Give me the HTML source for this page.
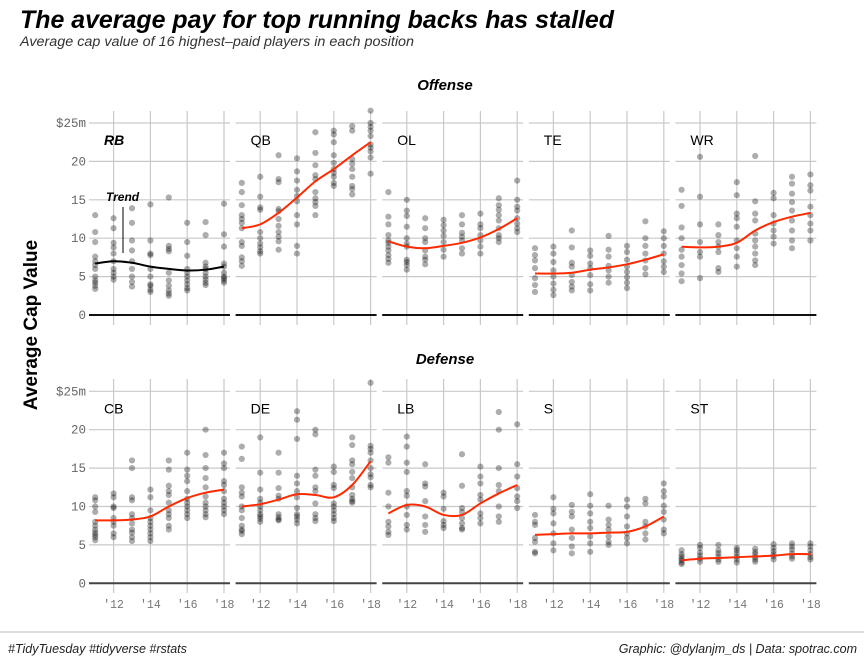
<!DOCTYPE html>
<html><head><meta charset="utf-8"><style>
body{margin:0;background:#fff;}
svg{display:block;font-family:"Liberation Sans",sans-serif;}
.mono{font-family:"Liberation Mono",monospace;}
</style></head><body>
<svg id="chart" width="864" height="668" viewBox="0 0 864 668">
<text x="20" y="28" font-size="25" font-weight="bold" font-style="italic" textLength="594" lengthAdjust="spacingAndGlyphs">The average pay for top running backs has stalled</text>
<text x="20" y="46" font-size="13.5" font-style="italic" fill="#333" textLength="394" lengthAdjust="spacingAndGlyphs">Average cap value of 16 highest–paid players in each position</text>
<text x="445" y="90" font-size="15" font-weight="bold" font-style="italic" text-anchor="middle">Offense</text>
<text x="445" y="364" font-size="15" font-weight="bold" font-style="italic" text-anchor="middle">Defense</text>
<text transform="translate(37,325) rotate(-90)" font-size="19" font-weight="bold" text-anchor="middle">Average Cap Value</text>
<line x1="0" y1="632" x2="864" y2="632" stroke="#bbb" stroke-width="1"/>
<text x="8" y="653" font-size="12.5" font-style="italic" fill="#222">#TidyTuesday #tidyverse #rstats</text>
<text x="857" y="653" font-size="12.5" font-style="italic" fill="#222" text-anchor="end">Graphic: @dylanjm_ds | Data: spotrac.com</text>
<g id="panels"></g>
</svg>
<script>
const years = [2011,2012,2013,2014,2015,2016,2017,2018];
const yTicks = [0,5,10,15,20,25];
const yTickLabels = ["0","5","10","15","20","$25m"];
const xTicks = [2012,2014,2016,2018];
const xTickLabels = ["'12","'14","'16","'18"];
const positions = ["RB","QB","OL","TE","WR","CB","DE","LB","S","ST"];

const RB = [[13,10.8,9.5,7.6,7,6.5,6,5,4.5,4.2,3.8,3.4],[12.6,11.3,9.4,8.8,8,7,6,5.5,5,4.6],[13.9,12,9.7,8.4,7,6,5,4.3,3.7],[14.4,9.7,8,7.8,6,5,4,3.8,3.3,3],[15.3,9,8.6,8.3,5.5,4.5,3.8,3.2,2.8,2.5],[12,9.5,7.7,6,5.5,5,4.5,4,3.5,3.2],[12.1,10.4,6.8,6.3,6,5.5,5,4.6,4.2,3.9],[14.5,10.5,8.9,6.7,6.3,5.5,5,4.8,4.5,4.2]];
const QB = [[17.2,16,14.3,13,12.5,12,11.3,9.5,9,7.5,7,6.4],[18,15.4,14,13.7,10.8,10,9.3,8.8,8.3,8],[20.8,17.7,17.3,13.8,13.5,12.5,11.6,10.8,10.2,9.6,8.5],[20.4,18.7,17.5,16.3,15.5,14.8,13,11.8,9,8],[23.8,21.1,19.5,18.2,17.7,16,15.2,14.7,14.2,13],[24,23.5,22.5,20.8,19.8,19,18.5,18,17.2,16.8],[24.6,24,20.3,19.7,19,18,16.8,16.4,15.7],[26.6,25,24.5,24,23.3,22.2,21.8,21.3,20.5,18.4]];
const OL = [[16,12.8,11.8,10.4,9.7,9.4,8.9,8.4,7.8,7.3,6.8],[15,13.6,12.9,11.5,10,9.3,8.9,7.2,6.9,6.5,5.9],[12.6,11.3,10,9.5,8.4,7.6,7.2,6.6],[12.4,11.7,11,10.3,9.5,8.5,7.6],[13,11.8,10.7,10.2,9.7,8.7,8],[13.2,11.8,11.3,10.4,9.7,8.9,8],[15.2,14.3,13.7,13,12.3,11.3,10.4,10,9.5],[17.5,15,14.1,13.6,12.6,11.9,11.3,10.8]];
const TE = [[8.7,7.8,7.1,6.1,4.8,3.9,3],[8.9,8,6.9,5.8,5,4.1,3.3,2.6],[11,8.8,6.8,6.3,5.2,4.3,3.7,3.2],[8.4,7.7,6.7,6.1,5.2,4,3.2],[10.3,8.5,7.6,6.4,5.8,5,4.2],[9,8.2,7.2,6.3,5.6,4.9,4.2,3.5],[12.2,10,9,8,7.1,6.1,5.3],[10.9,10,9,8,7,6.3,5.6]];
const WR = [[16.3,14.2,11.4,10,8.5,7.6,6.5,5.4,4.4],[20.6,15.4,11.8,9.5,8.2,7.6,4.8],[11.8,10.4,9.5,8.9,8.2,6.1,5.6],[17.3,15.6,13.2,12.6,11.5,9.7,8.7,7.6,6.3],[20.7,14.8,13.2,12.3,10.6,9.7,8.9,8,7.1,6.5],[15.9,15.2,13,11.9,11,10.2,9.3],[18,17.1,15.8,14.7,13.6,12.3,11,9.7,8.7],[18.3,16.9,16.2,14.1,13,11.9,11,9.7]];
const CB = [[11.2,10.8,10,9.3,8,7.5,7,6.6,6.3,6,5.6],[11.7,11.2,10,9.8,8.5,8,7.5,6.5,6],[16,15,11.2,10.8,9,8.5,7.8,7,6.6,6,5.5],[12.2,11.2,9.5,8.5,8,7.5,7,6.5,6,5.5],[16,14.8,12.7,12,11.5,10.5,9.5,9,8.5,7.5,7],[17,14.8,14,13.3,12,11,10.5,10,9.5,9,8.5],[20,16.7,15,13.7,12.5,11.3,10.5,10,9.5,9,8.6],[17,15.6,15,13.3,12.8,12,11,10.5,10,9.5,9]];
const DE = [[17.8,16.2,12.5,11.8,11.3,10,9.5,8.5,7.5,7,6.8,6.4],[19,14.4,12.2,11,10.5,10,9.5,9,8.7,8.4,8],[17,14.4,12.4,11.4,11,9,8.6,8.3,8.2],[22.4,21.3,18.8,14,13,12,11.2,9.8,9,8.7,8.3,7.8],[20,19.4,14.8,14,12.5,12,10.4,9,8.5,8.1],[15.2,14.5,12.8,12.4,10.4,10,9.5,9,8.5,8.1],[19,18,16,15.5,14.5,13.7,12.5,11.5,11,10.7,10.5],[26.1,17.9,17.5,17,16,15,14.2,13.8,12.8,12.5]];
const LB = [[16.4,15.7,11.8,10,8,7.4,6.7,6.3],[19.1,17.8,15.7,14.5,12,11.4,10,8.9,7.6,7],[15.5,13,12.6,10.7,8.7,7.6,6.7],[11.8,11.3,9.7,8.1,7.6,7.2],[16.8,12.7,9.8,9.3,8.5,7.8,7.2,7],[15.2,13.9,13,11.5,10.9,9.1,8.5,7.8],[22.3,20,15,12.8,12,10,8.7,8],[20.7,15.5,13.9,12.4,11.3,10.7,9.8]];
const S = [[8.9,8,7.6,5.9,5.4,4.1,3.9],[11.2,9.7,9.1,7.8,6.5,5.2,4.3],[10.2,9.3,8.7,7,5.9,4.8,3.9],[11.6,10.1,9.1,8,7.2,6.1,5.2,4.1],[10.1,8.3,7.6,7,6.1,5.4,5],[10.9,10,8.7,7.4,6.5,5.9,5.2],[11,10.4,8,7.4,6.5,5.7],[13,12,11.3,10.1,9.3,8.3,7,6.5]];
const ST = [[4.3,3.8,3.5,3.2,3,2.7,2.5],[5,4.6,4,3.6,3.2,2.8],[5,4.3,3.9,3.5,3.1,2.8],[4.6,4.3,3.9,3.5,3.1,2.7],[4.5,4.1,3.8,3.4,3.1,2.8],[5.1,4.6,4.2,3.8,3.5,3.1],[5.2,4.8,4.4,3.9,3.5,3.2],[5.2,4.8,4.3,3.8,3.4,3.1]];
const pointData = {RB,QB,OL,TE,WR,CB,DE,LB,S,ST};

const trendRB = [6.7,7.0,6.8,6.3,6.0,5.8,5.9,6.3];
const trendQB = [11.3,11.8,13.3,15.3,17.4,19.0,20.8,22.5];
const trendOL = [9.6,8.9,8.7,9.0,9.4,10.1,11.2,12.6];
const trendTE = [5.4,5.4,5.5,5.9,6.2,6.6,7.2,7.9];
const trendWR = [8.9,8.8,8.9,9.4,11.0,12.1,12.8,13.3];
const trendCB = [8.2,8.2,8.3,8.7,10.0,11.1,11.8,12.2];
const trendDE = [10.0,10.3,10.9,11.6,11.5,11.2,12.8,15.9];
const trendLB = [9.1,10.2,10.0,8.9,8.9,10.4,11.7,12.8];
const trendS = [6.3,6.4,6.5,6.5,6.6,6.7,7.4,8.7];
const trendST = [3.0,3.2,3.3,3.4,3.5,3.6,3.8,3.8];
const trends = {RB:trendRB,QB:trendQB,OL:trendOL,TE:trendTE,WR:trendWR,CB:trendCB,DE:trendDE,LB:trendLB,S:trendS,ST:trendST};

const NS = "http://www.w3.org/2000/svg";
const root = document.getElementById('panels');
const panelW = 141, stride = 146.6, left0 = 89;
const rows = [{zero:315, top:111, bot:325}, {zero:583.3, top:379, bot:593}];
const pxPerUnit = 7.68;
function mk(tag, attrs, parent){const e=document.createElementNS(NS,tag);for(const k in attrs)e.setAttribute(k,attrs[k]);(parent||root).appendChild(e);return e;}

positions.forEach((pos, i) => {
  const row = i < 5 ? 0 : 1, col = i % 5;
  const L = left0 + col*stride;
  const R = rows[row];
  const xs = yr => L + 6.2 + (yr - 2011) * ((panelW - 12.2) / 7);
  const ys = v => R.zero - v * pxPerUnit;
  const g = mk('g', {});
  
  
  yTicks.forEach((t, k) => {
    if (t === 0) return;
    const l = mk('line', {x1:L, x2:L+panelW, y1:ys(t), y2:ys(t), stroke:'#c9c9c9', 'stroke-width':1.2}, g);
    
    
    if (col === 0) {
      const tx = mk('text', {x:L-3, y:ys(t)+4, 'font-size':12.5, fill:'#666', 'text-anchor':'end', class:'mono'}, g);
      tx.textContent = yTickLabels[k];
      
      
    }
  });
  if (col === 0) {
    const tx = mk('text', {x:L-3, y:ys(0)+4, 'font-size':12.5, fill:'#666', 'text-anchor':'end', class:'mono'}, g);
    tx.textContent = yTickLabels[0];
    
    
  }
  xTicks.forEach((t, k) => {
    const l = mk('line', {x1:xs(t), x2:xs(t), y1:R.top, y2:R.bot, stroke:'#c9c9c9', 'stroke-width':1.2}, g);
    
    
    if (row === 1) {
      const tx = mk('text', {x:xs(t), y:608, 'font-size':11.5, fill:'#777', 'text-anchor':'middle', class:'mono'}, g);
      tx.textContent = xTickLabels[k];
      
      
    }
  });
  const z = mk('line', {x1:L, x2:L+panelW, y1:ys(0), y2:ys(0), stroke: row===0?'#111':'#444', 'stroke-width':2}, g);
  
  
  const lab = mk('text', {x:L+15, y:ys(25)+22, 'font-size':14}, g);
  if (pos === 'RB') { lab.setAttribute('font-weight','bold'); lab.setAttribute('font-style','italic'); }
  lab.textContent = pos;
  
  
  pointData[pos].forEach((vals, yi) => {
    vals.forEach(v => {
      const c = mk('circle', {cx:xs(years[yi]), cy:ys(v), r:3.1, fill:'#000', 'fill-opacity':0.32}, g);
      
      
    });
  });
  const tr = trends[pos];
  const P = tr.map((v, k) => [xs(years[k]), ys(v)]);
  let d = 'M' + P[0][0] + ',' + P[0][1];
  for (let k = 0; k < P.length-1; k++) {
    const p0 = P[Math.max(0,k-1)], p1 = P[k], p2 = P[k+1], p3 = P[Math.min(P.length-1,k+2)];
    const c1 = [p1[0]+(p2[0]-p0[0])/6, p1[1]+(p2[1]-p0[1])/6];
    const c2 = [p2[0]-(p3[0]-p1[0])/6, p2[1]-(p3[1]-p1[1])/6];
    d += ' C' + c1 + ' ' + c2 + ' ' + p2;
  }
  const path = mk('path', {d:d, fill:'none', stroke: pos==='RB'?'#000':'#ff2a00', 'stroke-width':2}, g);
  
  
  if (pos === 'RB') {
    const t = mk('text', {x:106, y:201, 'font-size':12, 'font-weight':'bold', 'font-style':'italic'}, g);
    t.textContent = 'Trend';
    
    
    const al = mk('line', {x1:123, x2:123, y1:207, y2:253, stroke:'#000', 'stroke-width':1}, g);
    
    
  }
});
</script>
</body></html>
